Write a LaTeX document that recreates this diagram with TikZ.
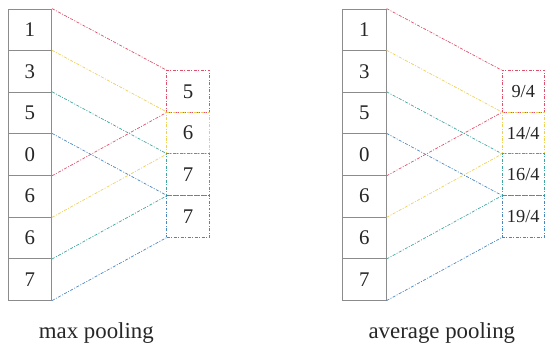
\documentclass[tikz,border=0pt]{standalone}
\usepackage{fontspec}
\setmainfont{Liberation Serif}
\definecolor{winred}{HTML}{E0506A}
\definecolor{winyellow}{HTML}{EDCF5A}
\definecolor{wingreen}{HTML}{3FA5A0}
\definecolor{winblue}{HTML}{4A86C0}
\begin{document}
\begin{tikzpicture}[
    x=1pt, y=-1pt,
    incell/.style={rectangle, draw=black!45, line width=0.8pt, fill=white,
        minimum width=44pt, minimum height=41.9pt, inner sep=0pt,
        font=\fontsize{21}{25}\selectfont, text=black!85},
    outcell/.style={rectangle, line width=0.8pt, minimum width=43pt,
        minimum height=42pt, inner sep=0pt,
        dash pattern=on 3pt off 1.5pt on 1pt off 1.5pt,
        font=\fontsize{21}{25}\selectfont, text=black!85},
    fraccell/.style={outcell, font=\fontsize{18.5}{22}\selectfont},
    win/.style={line width=0.7pt, dash pattern=on 3pt off 1.5pt on 1pt off 1.5pt},
    caption/.style={font=\fontsize{23}{27}\selectfont, text=black!85}
]
    % --- max pooling ---
    \node[incell] (m1) at (30, 30) {1};
    \node[incell] (m2) at (30, 72) {3};
    \node[incell] (m3) at (30, 113.8) {5};
    \node[incell] (m4) at (30, 155.7) {0};
    \node[incell] (m5) at (30, 197.6) {6};
    \node[incell] (m6) at (30, 239.5) {6};
    \node[incell] (m7) at (30, 281.4) {7};

    \node[outcell, draw=winred] (mo1) at (189.5, 92) {5};
    \node[outcell, draw=winyellow] (mo2) at (189.5, 134) {6};
    \node[outcell, draw=wingreen] (mo3) at (189.5, 176) {7};
    \node[outcell, draw=winblue] (mo4) at (189.5, 218) {7};

    \draw[win, winred] (m1.north east) -- (mo1.north west);
    \draw[win, winred] (m4.south east) -- (mo1.south west);
    \draw[win, winyellow] (m2.north east) -- (mo2.north west);
    \draw[win, winyellow] (m5.south east) -- (mo2.south west);
    \draw[win, wingreen] (m3.north east) -- (mo3.north west);
    \draw[win, wingreen] (m6.south east) -- (mo3.south west);
    \draw[win, winblue] (m4.north east) -- (mo4.north west);
    \draw[win, winblue] (m7.south east) -- (mo4.south west);

    \node[caption] (mcap) at (97, 335) {max pooling};

    % --- average pooling ---
    \node[incell] (a1) at (367, 30) {1};
    \node[incell] (a2) at (367, 72) {3};
    \node[incell] (a3) at (367, 113.8) {5};
    \node[incell] (a4) at (367, 155.7) {0};
    \node[incell] (a5) at (367, 197.6) {6};
    \node[incell] (a6) at (367, 239.5) {6};
    \node[incell] (a7) at (367, 281.4) {7};

    \node[fraccell, draw=winred] (ao1) at (527, 92) {9/4};
    \node[fraccell, draw=winyellow] (ao2) at (527, 134) {14/4};
    \node[fraccell, draw=wingreen] (ao3) at (527, 176) {16/4};
    \node[fraccell, draw=winblue] (ao4) at (527, 218) {19/4};

    \draw[win, winred] (a1.north east) -- (ao1.north west);
    \draw[win, winred] (a4.south east) -- (ao1.south west);
    \draw[win, winyellow] (a2.north east) -- (ao2.north west);
    \draw[win, winyellow] (a5.south east) -- (ao2.south west);
    \draw[win, wingreen] (a3.north east) -- (ao3.north west);
    \draw[win, wingreen] (a6.south east) -- (ao3.south west);
    \draw[win, winblue] (a4.north east) -- (ao4.north west);
    \draw[win, winblue] (a7.south east) -- (ao4.south west);

    \node[caption] (acap) at (445, 335) {average pooling};

    % Bounding box for padding
    \useasboundingbox (0, 0) rectangle (545, 352);
\end{tikzpicture}
\end{document}
